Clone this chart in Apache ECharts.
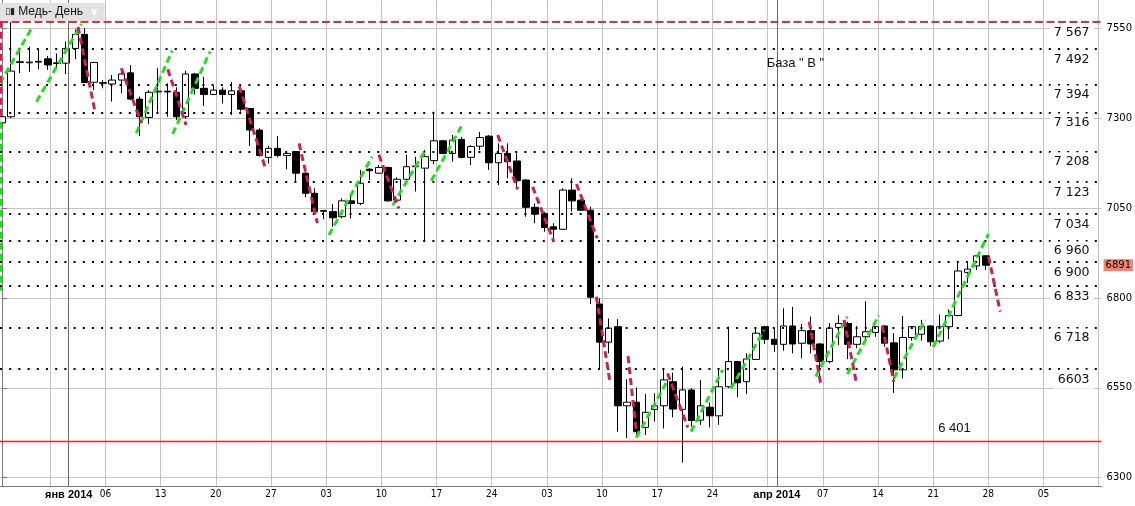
<!DOCTYPE html>
<html>
<head>
<meta charset="utf-8">
<script src="https://cdn.jsdelivr.net/npm/echarts@6/dist/echarts.min.js"></script>
<style>html,body{margin:0;padding:0;background:#fff}#c{width:1135px;height:506px}</style>
</head>
<body>
<div id="c"></div>
<script>
// ---- data ----
// daily candles: [open, close, low, high]; one bar per trading day starting Tue 24 Dec 2013
const candles = [
 [7287,7304,7276,7314],[7304,7431,7300,7567],[7455,7457,7425,7496],[7454,7456,7429,7499],
 [7458,7456,7436,7492],[7465,7448,7434,7473],[7452,7454,7439,7480],[7453,7494,7423,7513],
 [7494,7533,7464,7547],[7533,7399,7398,7550],[7400,7455,7378,7457],[7397,7399,7383,7406],
 [7395,7406,7346,7420],[7406,7423,7369,7436],[7426,7353,7350,7448],[7353,7304,7250,7360],
 [7302,7372,7283,7378],[7373,7375,7318,7439],[7375,7373,7304,7397],[7372,7304,7295,7386],
 [7304,7423,7298,7432],[7423,7383,7366,7426],[7383,7366,7334,7415],[7366,7378,7364,7390],
 [7378,7366,7341,7386],[7366,7376,7309,7401],[7376,7325,7318,7390],[7327,7267,7223,7328],
 [7267,7196,7193,7272],[7191,7216,7174,7223],[7216,7196,7191,7250],[7196,7202,7158,7207],
 [7207,7147,7123,7209],[7147,7091,7080,7149],[7091,7040,7038,7105],[7041,7043,7019,7044],
 [7040,7023,6998,7061],[7026,7070,7021,7077],[7070,7063,7021,7084],[7063,7119,7058,7156],
 [7158,7154,7128,7161],[7147,7163,7145,7170],[7163,7070,7068,7165],[7072,7130,7070,7135],
 [7130,7165,7128,7198],[7165,7167,7096,7193],[7161,7193,6956,7211],[7182,7237,7172,7318],
 [7237,7202,7200,7239],[7202,7239,7179,7253],[7241,7191,7188,7248],[7191,7221,7170,7225],
 [7222,7246,7211,7262],[7250,7176,7156,7253],[7176,7202,7114,7230],[7202,7179,7133,7230],
 [7181,7126,7109,7202],[7128,7052,7026,7130],[7052,7033,7008,7063],[7035,6996,6984,7040],
 [6998,6991,6966,7008],[6991,7100,6989,7105],[7100,7070,7040,7133],[7072,7044,7042,7074],
 [7044,6802,6783,7054],[6783,6677,6604,6799],[6677,6716,6646,6743],[6720,6500,6428,6741],
 [6500,6510,6410,6574],[6510,6428,6414,6551],[6440,6482,6419,6533],[6490,6500,6456,6535],
 [6500,6572,6437,6602],[6567,6491,6468,6592],[6490,6544,6342,6609],[6544,6459,6442,6549],
 [6460,6500,6447,6572],[6496,6472,6440,6509],[6472,6553,6447,6601],[6553,6623,6549,6720],
 [6623,6564,6524,6625],[6567,6630,6533,6646],[6629,6702,6627,6716],[6720,6685,6672,6722],
 [6685,6671,6650,6716],[6671,6722,6653,6771],[6722,6672,6646,6775],[6674,6709,6632,6728],
 [6709,6672,6646,6748],[6672,6623,6563,6674],[6623,6716,6618,6730],[6718,6729,6669,6752],
 [6729,6671,6630,6734],[6671,6692,6660,6722],[6692,6706,6685,6791],[6704,6720,6692,6722],
 [6722,6674,6664,6724],[6675,6600,6536,6702],[6600,6690,6576,6750],[6690,6720,6681,6722],
 [6699,6720,6681,6739],[6722,6678,6666,6724],[6680,6720,6675,6754],[6720,6751,6685,6768],
 [6751,6875,6749,6901],[6871,6880,6842,6901],[6889,6917,6878,6919],[6917,6891,6878,6919]
];
const lastPrice = 6891;

// horizontal levels
const levelValues = [7492, 7394, 7316, 7208, 7123, 7034, 6960, 6900, 6833, 6718, 6603];
const levelLabels = ['7 492','7 394','7 316','7 208','7 123','7 034','6 960','6 900','6 833','6 718','6603'];
const topLevel = 7567, topLevelLabel = '7 567';
const baseLevel = 6401, baseLevelLabel = '6 401';

// trend segments: [[barIndex, price], [barIndex, price]]
const upTrends = [
 [[-0.12,7290],[-0.12,6820]],
 [[-0.2,7397],[3.24,7550]], [[3.78,7346],[8.66,7562]], [[14.62,7258],[18.53,7488]],
 [[18.59,7256],[22.64,7485]], [[35.58,6975],[40.27,7193]], [[42.5,7058],[46.06,7211]],
 [[46.71,7126],[50.1,7283]], [[69.0,6412],[72.43,6572]], [[74.96,6428],[78.4,6600]],
 [[79.3,6548],[82.9,6711]], [[88.5,6581],[91.95,6748]], [[91.95,6588],[95.38,6752]],
 [[97.0,6576],[100.4,6739]], [[101.3,6664],[107.3,6978]]
];
const downTrends = [
 [[-0.12,7571],[-0.12,7295]],
 [[8.29,7554],[10.1,7323]], [[13.0,7439],[15.17,7286]], [[18.05,7436],[20.04,7281]],
 [[25.82,7389],[28.64,7163]], [[32.33,7230],[34.31,7008]], [[41.0,7198],[43.17,7049]],
 [[53.93,7253],[56.1,7102]], [[57.72,7109],[60.04,6956]], [[62.49,7117],[64.74,6966]],
 [[64.66,6803],[66.1,6572]], [[68.1,6638],[69.0,6428]], [[72.4,6590],[74.6,6440]],
 [[87.8,6734],[89.05,6562]], [[91.59,6739],[92.96,6560]], [[95.74,6722],[97.0,6567]],
 [[107.3,6915],[108.57,6762]]
];

// axes
const yTicks = [6300, 6550, 6800, 7050, 7300, 7550];
const weekStartIdx = [5,11,17,23,29,35,41,47,53,59,65,71,77,83,89,95,101,107,113,119];
const monthStartIdx = [7, 84];
const xLabelIdx = [7,11,17,23,29,35,41,47,53,59,65,71,77,84,89,95,101,107,113];
const xLabels = ['янв 2014','06','13','20','27','03','10','17','24','03','10','17','24','апр 2014','07','14','21','28','05'];
const boldLabels = ['янв 2014','апр 2014'];

const notes = [
 {text: 'База " В "', at: [86.3, 7451]},
 {text: baseLevelLabel, at: [103.6, 6438]}
];

// ---- chart ----
const GRID_OFF = 0.276; // grid lines sit slightly right of bar centre
const FONT = 'DejaVu Sans';
const chart = echarts.init(document.getElementById('c'), null, {renderer: 'canvas'});

const levelLines = levelValues.map((v, k) => ({
  yAxis: v,
  lineStyle: {color: '#000', width: 2, type: [2, 7.2], cap: 'butt'},
  label: {show: true, position: 'insideEndBottom', distance: [8, 1], formatter: levelLabels[k],
    backgroundColor: '#fff', padding: [3, 4], color: '#111', fontSize: 12.5, fontFamily: FONT}
}));
levelLines.push({
  yAxis: topLevel,
  lineStyle: {color: '#e3303c', width: 2, type: [8, 3.5]},
  label: {show: true, position: 'insideEndBottom', distance: [8, 1], formatter: topLevelLabel,
    backgroundColor: '#fff', padding: [3, 4], color: '#111', fontSize: 12.5, fontFamily: FONT}
});
levelLines.push({
  yAxis: baseLevel,
  lineStyle: {color: '#ff2020', width: 1.3, type: 'solid', opacity: 1},
  label: {show: false}
});
monthStartIdx.forEach(i => levelLines.push({
  xAxis: i + GRID_OFF,
  lineStyle: {color: '#6a6a6a', width: 1, type: 'solid'},
  label: {show: false}
}));
levelLines.push({
  yAxis: lastPrice,
  lineStyle: {color: 'rgba(0,0,0,0)', width: 0.1},
  label: {show: true, position: 'end', distance: 2, formatter: String(lastPrice),
    backgroundColor: '#f3836f', padding: [1, 2, 1, 2], color: '#000', fontSize: 10, fontFamily: FONT}
});

const option = {
  animation: false,
  backgroundColor: '#fff',
  title: {
    text: '{ic|▯▮} Медь- День  {ch|∨}',
    left: 0, top: 3,
    backgroundColor: '#e2e2e2',
    padding: [3, 6, 3, 5],
    textStyle: {
      fontSize: 12, fontWeight: 'normal', color: '#111', fontFamily: 'Liberation Sans',
      rich: {
        ic: {fontSize: 9, color: '#222', fontFamily: FONT},
        ch: {fontSize: 11, color: '#fdfdfd', fontWeight: 'bold', fontFamily: FONT}
      }
    }
  },
  grid: {left: 0, right: 30, top: 0, bottom: 20, containLabel: false},
  xAxis: {
    type: 'value',
    min: -0.195, max: 119.59,
    axisLine: {show: true, lineStyle: {color: '#7a7a7a'}},
    axisTick: {show: false, customValues: weekStartIdx.map(i => i + GRID_OFF)},
    splitLine: {show: true, lineStyle: {color: '#c4c4c4', width: 1}},
    axisLabel: {
      customValues: xLabelIdx.map(i => i + GRID_OFF),
      margin: 3,
      color: '#000',
      fontSize: 10,
      fontFamily: 'Liberation Sans Narrow, DejaVu Sans Condensed, Liberation Sans',
      formatter: function (v) {
        let k = xLabelIdx.findIndex(i => Math.abs(i + GRID_OFF - v) < 0.01);
        if (k < 0) return '';
        const t = xLabels[k];
        return boldLabels.indexOf(t) >= 0 ? '{b|' + t + '}' : t;
      },
      rich: {b: {fontWeight: 'bold', fontSize: 11, fontFamily: 'Liberation Sans', color: '#000'}}
    }
  },
  yAxis: {
    type: 'value',
    position: 'right',
    min: 6276.9, max: 7628.7,
    axisLine: {show: true, lineStyle: {color: '#7a7a7a'}},
    axisTick: {show: true, length: 5, customValues: yTicks, lineStyle: {color: '#7a7a7a'}},
    splitLine: {show: true, lineStyle: {color: '#c4c4c4', width: 1}},
    axisLabel: {customValues: yTicks, margin: 5, color: '#000', fontSize: 10, fontFamily: FONT,
      formatter: v => String(Math.round(v))}
  },
  series: [
    {
      type: 'candlestick',
      clip: false,
      data: candles.map((d, i) => [i, d[0], d[1], d[2], d[3]]),
      barWidth: 7,
      itemStyle: {color: '#fff', color0: '#000', borderColor: '#000', borderColor0: '#000', borderWidth: 1},
      markLine: {silent: true, symbol: ['none', 'none'], animation: false, data: levelLines},
      markPoint: {
        silent: true, symbol: 'rect', symbolSize: 0, animation: false,
        data: notes.map(n => ({coord: n.at, label: {show: true, position: 'inside', formatter: n.text,
          color: '#111', fontSize: 13, fontFamily: 'Liberation Sans'}}))
      },
      z: 2
    },
    {
      type: 'lines', coordinateSystem: 'cartesian2d', z: 5,
      data: upTrends.map(s => ({coords: s})),
      lineStyle: {color: '#1fe01f', width: 3, type: [7, 4], opacity: 1}
    },
    {
      type: 'lines', coordinateSystem: 'cartesian2d', z: 5,
      data: downTrends.map(s => ({coords: s})),
      lineStyle: {color: '#d21e52', width: 3, type: [7, 4], opacity: 1}
    }
  ]
};
chart.setOption(option);
</script>
</body>
</html>
